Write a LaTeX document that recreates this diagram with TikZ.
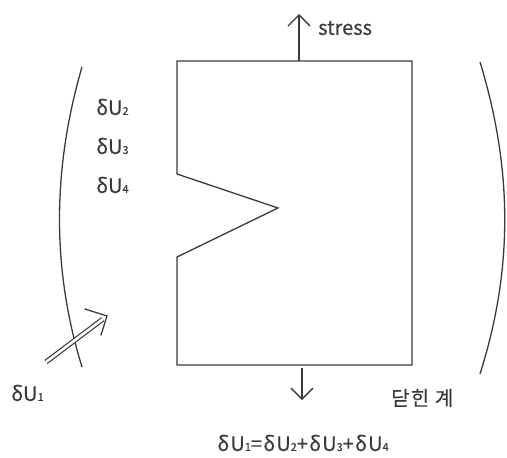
\documentclass[tikz,border=0pt]{standalone}
\usepackage{fontspec}
\setmainfont{Noto Sans CJK KR}[FakeBold=0.4]
\newfontfamily\eqfont{Noto Sans CJK KR}[FakeBold=0.4,LetterSpace=6]
\usetikzlibrary{arrows.meta,calc}
\newcommand{\sbn}[1]{{\fontsize{11}{11}\selectfont #1}}
\definecolor{ink}{HTML}{3A3A3A}
\tikzset{
  ln/.style={draw=ink, line width=1.3pt, line join=miter},
  lbl/.style={text=ink, font=\fontsize{20}{20}\selectfont, inner sep=0pt},
  barb/.style={-{Straight Barb[length=11pt,width=22pt,line width=1.3pt]}}
}
\begin{document}
\begin{tikzpicture}[x=1pt,y=-1pt]
\useasboundingbox (0,0) rectangle (507,458);
% box with notch
\coordinate (tl) at (177,61);
\coordinate (tr) at (412,61);
\coordinate (br) at (412,365);
\coordinate (bl) at (177,365);
\coordinate (n1) at (177,174);
\coordinate (n2) at (278,208);
\coordinate (n3) at (177,257);
\draw[ln] (n1) -- (tl) -- (tr) -- (br) -- (bl) -- (n3) -- (n2) -- cycle;
% stress arrow
\coordinate (s0) at (299,61);
\coordinate (s1) at (299,14);
\draw[ln, barb] (s0) -- (s1);
\node[lbl, anchor=west] (stress) at (318,28) {stress};
% down arrow
\coordinate (d0) at (302,368);
\coordinate (d1) at (302,400);
\draw[ln, barb] (d0) -- (d1);
% brackets
\coordinate (la) at (82,67);
\coordinate (lb) at (82,367);
\draw[ln] (la) .. controls (52,170) and (52,270) .. (lb);
\coordinate (ra) at (480,62);
\coordinate (rb) at (480,374);
\draw[ln] (ra) .. controls (513,170) and (513,270) .. (rb);
% double arrow
\coordinate (a0) at (46,362);
\coordinate (a1) at (107,316);
\coordinate (a2) at ($(a0)!0.93!(a1)$);
\draw[draw=ink, line width=1.2pt, double=white, double distance=2.6pt] (a0) -- (a2);
\coordinate (h1) at (85,309);
\coordinate (h2) at (101,335);
\draw[ln, line cap=round] (h1) -- (a1) -- (h2);
% labels
\node[lbl, anchor=west] (u2) at (96,107) {δU\sbn{2}};
\node[lbl, anchor=west] (u3) at (96,146) {δU\sbn{3}};
\node[lbl, anchor=west] (u4) at (96,185) {δU\sbn{4}};
\node[lbl, anchor=west] (u1) at (11,393) {δU\sbn{1}};
\node[lbl, anchor=west, font=\eqfont\fontsize{20}{20}\selectfont] (sys) at (391,398) {닫힌 계};
\node[lbl, font=\eqfont\fontsize{20}{20}\selectfont] (eq) at (303,443) {δU\sbn{1}=δU\sbn{2}+δU\sbn{3}+δU\sbn{4}};
\end{tikzpicture}
\end{document}
